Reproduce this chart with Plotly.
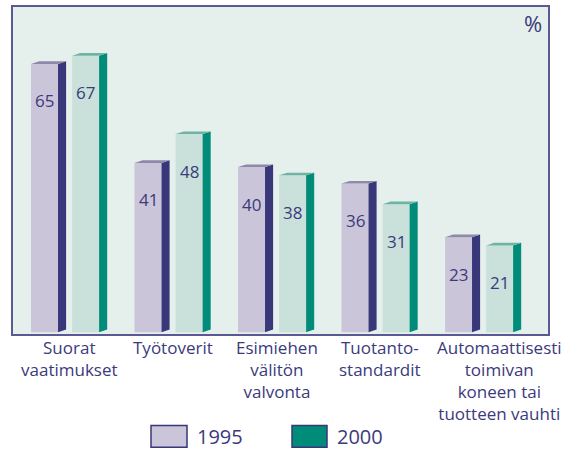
import plotly.graph_objects as go

categories = ["Suorat<br>vaatimukset", "Työtoverit", "Esimiehen<br>välitön<br>valvonta",
              "Tuotanto-<br>standardit", "Automaattisesti<br>toimivan<br>koneen tai<br>tuotteen vauhti"]
v1995 = [65, 41, 40, 36, 23]
v2000 = [67, 48, 38, 31, 21]
years = ["1995", "2000"]

NAVY = "#38377a"
TEAL = "#008c78"
FRONT95 = "#cbc5d9"
FRONT00 = "#c9e1da"
TOP95 = "#8f88ab"
TOP00 = "#6fb4a3"
BG = "#e5efeb"
TXT = "#3b3a7c"
FONT = "Open Sans"

W, H = 568, 450
ml, mr, mt, mb = 13, 20, 5, 116
pw = W - ml - mr
ph = H - mt - mb

FW = 0.261   # front width
DX = 0.078   # depth (x)
DY = 0.65    # depth (y)
off95 = -0.372
off00 = 0.025

fig = go.Figure()

def add_series(vals, off, front, side, top, name):
    xs = [i + off + FW / 2 for i in range(len(vals))]
    fig.add_trace(go.Bar(x=xs, y=vals, width=FW, marker=dict(color=front, line=dict(width=0)),
                         name=name, showlegend=False, hoverinfo="skip"))
    sx, sy, tx, ty = [], [], [], []
    for i, v in enumerate(vals):
        x0 = i + off
        x1 = x0 + FW
        sx += [x1, x1 + DX, x1 + DX, x1, x1, None]
        sy += [0, DY, v + DY, v, 0, None]
        tx += [x0, x1, x1 + DX, x0 + DX, x0, None]
        ty += [v, v, v + DY, v + DY, v, None]
    fig.add_trace(go.Scatter(x=sx, y=sy, mode="lines", fill="toself", fillcolor=side,
                             line=dict(width=0, color=side), showlegend=False, hoverinfo="skip"))
    fig.add_trace(go.Scatter(x=tx, y=ty, mode="lines", fill="toself", fillcolor=top,
                             line=dict(width=0, color=top), showlegend=False, hoverinfo="skip"))
    for x, v in zip(xs, vals):
        fig.add_annotation(x=x, y=v, text=str(v), showarrow=False, yshift=-37,
                           xanchor="center", yanchor="middle",
                           font=dict(size=17, color=TXT, family=FONT))

add_series(v1995, off95, FRONT95, NAVY, TOP95, years[0])
add_series(v2000, off00, FRONT00, TEAL, TOP00, years[1])

# category labels
for i, c in enumerate(categories):
    fig.add_annotation(x=i, y=(334 - 334) / ph, yref="paper", yanchor="top", xanchor="center",
                       text=c, showarrow=False,
                       xshift=16 if i == len(categories) - 1 else 0,
                       font=dict(size=17, color=TXT, family=FONT), align="center")

# percent sign
fig.add_annotation(x=(533 - ml) / pw, y=(334 - 21) / ph, xref="paper", yref="paper",
                   xanchor="center", yanchor="middle",
                   text="%", showarrow=False, font=dict(size=22, color=TXT, family=FONT))

# legend
leg = [(151, 187, 195, FRONT95, years[0]), (292, 327, 335, TEAL, years[1])]
for x0, x1, tx, col, lab in leg:
    fig.add_shape(type="rect", xref="paper", yref="paper",
                  x0=(x0 - ml) / pw, x1=(x1 - ml) / pw,
                  y0=(334 - 448) / ph, y1=(334 - 426) / ph,
                  fillcolor=col, line=dict(color=NAVY, width=1.5))
    fig.add_annotation(x=(tx - ml) / pw, y=(334 - 437) / ph, xref="paper", yref="paper",
                       xanchor="left", yanchor="middle", text=lab, showarrow=False,
                       font=dict(size=20, color=TXT, family=FONT))

fig.update_layout(
    width=W, height=H, margin=dict(l=ml, r=mr, t=mt, b=mb),
    paper_bgcolor="white", plot_bgcolor=BG, barmode="overlay",
    xaxis=dict(range=[-0.546, 4.623], showticklabels=False, showgrid=False, zeroline=False,
               showline=True, mirror=True, linecolor="#5a5994", linewidth=1.5, ticks=""),
    yaxis=dict(range=[-0.45, 78.8], showticklabels=False, showgrid=False, zeroline=False,
               showline=True, mirror=True, linecolor="#5a5994", linewidth=1.5, ticks=""),
)

fig.write_html("out.html", config={"displayModeBar": False},
               post_script="document.body.style.margin='0';document.body.style.overflow='hidden';")
